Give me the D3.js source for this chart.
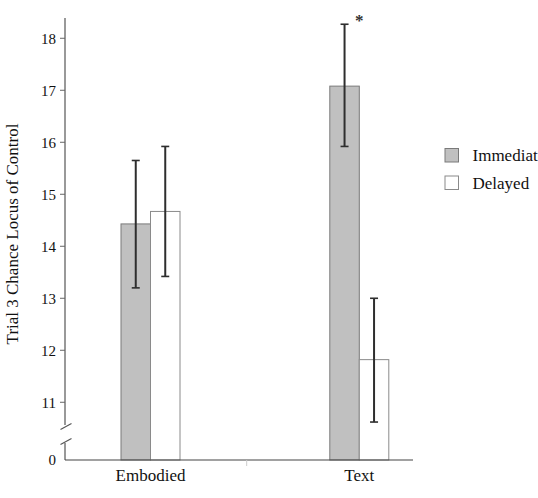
<!DOCTYPE html>
<html>
<head>
<meta charset="utf-8">
<script src="https://cdn.jsdelivr.net/npm/d3@7"></script>
<style>
  body { margin: 0; background: #fff; }
</style>
</head>
<body>
<div id="chart"></div>
<script>
const width = 538,
  height = 498;

// data
const categories = ["Embodied", "Text"];
const seriesNames = ["Immediate", "Delayed"];
const immediateMean = [14.43, 17.08];
const immediateLow = [13.2, 15.92];
const immediateHigh = [15.65, 18.27];
const delayedMean = [14.67, 11.82];
const delayedLow = [13.42, 10.62];
const delayedHigh = [15.92, 13.0];
const yTicks = [0, 11, 12, 13, 14, 15, 16, 17, 18];
const significant = [false, true];

const fills = ["#c0c0c0", "#ffffff"];
const strokes = ["#7a7a7a", "#8a8a8a"];
const serif = '"Liberation Serif"';

const rows = [];
categories.forEach((c, i) => {
  rows.push({ cat: c, s: 0, v: immediateMean[i], lo: immediateLow[i], hi: immediateHigh[i] });
  rows.push({ cat: c, s: 1, v: delayedMean[i], lo: delayedLow[i], hi: delayedHigh[i] });
});

// broken axis: 0 at the floor, then 10.56 .. 18.39 above the break
const y = d3.scaleLinear().domain([0, 10.563, 18.39]).range([460, 425, 18]);
const x = d3.scalePoint().domain(categories).range([150.5, 359.3]);
const barW = 29.5;

const svg = d3
  .select("#chart")
  .append("svg")
  .attr("width", width)
  .attr("height", height);

// bars
svg
  .append("g")
  .selectAll("rect")
  .data(rows)
  .join("rect")
  .attr("x", (d) => x(d.cat) + (d.s === 0 ? -barW : 0))
  .attr("y", (d) => y(d.v))
  .attr("width", barW)
  .attr("height", (d) => y(0) - y(d.v))
  .attr("fill", (d) => fills[d.s])
  .attr("stroke", (d) => strokes[d.s])
  .attr("stroke-width", 1);

// error bars
const eb = svg.append("g").attr("stroke", "#2e2e2e");
rows.forEach((d) => {
  const cx = x(d.cat) + (d.s === 0 ? -barW / 2 : barW / 2);
  eb.append("line")
    .attr("x1", cx).attr("x2", cx)
    .attr("y1", y(d.lo)).attr("y2", y(d.hi))
    .attr("stroke-width", 2);
  [d.lo, d.hi].forEach((v) => {
    eb.append("line")
      .attr("x1", cx - 4).attr("x2", cx + 4)
      .attr("y1", y(v)).attr("y2", y(v))
      .attr("stroke-width", 1.6);
  });
});

// significance star
svg
  .append("g")
  .selectAll("text")
  .data(categories.filter((c, i) => significant[i]))
  .join("text")
  .attr("x", (d) => x(d))
  .attr("y", (d) => y(immediateHigh[categories.indexOf(d)]) + 2)
  .attr("text-anchor", "middle")
  .style("font-family", serif)
  .style("font-size", "17px")
  .style("font-weight", "bold")
  .attr("fill", "#333")
  .text("*");

// y axis
const yAxis = svg.append("g");
yAxis
  .append("line")
  .attr("x1", 65).attr("x2", 65)
  .attr("y1", y(18.39)).attr("y2", y(10.563))
  .attr("stroke", "#555").attr("stroke-width", 1.2);
yAxis
  .append("line")
  .attr("x1", 65).attr("x2", 65)
  .attr("y1", 443).attr("y2", y(0))
  .attr("stroke", "#555").attr("stroke-width", 1.2);
// break marks
yAxis
  .append("line")
  .attr("x1", 60.5).attr("y1", 429.5).attr("x2", 71.5).attr("y2", 423.5)
  .attr("stroke", "#555").attr("stroke-width", 1.1);
yAxis
  .append("line")
  .attr("x1", 60.5).attr("y1", 444.5).attr("x2", 71.5).attr("y2", 438.5)
  .attr("stroke", "#555").attr("stroke-width", 1.1);

yAxis
  .selectAll(".tick")
  .data(yTicks.filter((t) => t > 0))
  .join("line")
  .attr("x1", 60).attr("x2", 65)
  .attr("y1", (d) => y(d)).attr("y2", (d) => y(d))
  .attr("stroke", "#666").attr("stroke-width", 1);

yAxis
  .selectAll("text")
  .data(yTicks)
  .join("text")
  .attr("x", 56)
  .attr("y", (d) => y(d))
  .attr("dy", "0.35em")
  .attr("text-anchor", "end")
  .style("font-family", serif)
  .style("font-size", "15px")
  .attr("fill", "#111")
  .text((d) => d);

svg
  .append("text")
  .attr("transform", "translate(18,234) rotate(-90)")
  .attr("text-anchor", "middle")
  .style("font-family", serif)
  .style("font-size", "17px")
  .attr("fill", "#111")
  .text("Trial 3 Chance Locus of Control");

// x axis
svg
  .append("line")
  .attr("x1", 65).attr("x2", 413)
  .attr("y1", y(0)).attr("y2", y(0))
  .attr("stroke", "#444").attr("stroke-width", 1.2);
svg
  .append("line")
  .attr("x1", 246.7).attr("x2", 246.7)
  .attr("y1", y(0)).attr("y2", y(0) + 6)
  .attr("stroke", "#ccc").attr("stroke-width", 1);

svg
  .append("g")
  .selectAll("text")
  .data(categories)
  .join("text")
  .attr("x", (d) => x(d))
  .attr("y", 481)
  .attr("text-anchor", "middle")
  .style("font-family", serif)
  .style("font-size", "17px")
  .attr("fill", "#111")
  .text((d) => d);

// legend
const legend = svg
  .append("g")
  .selectAll("g")
  .data(seriesNames)
  .join("g")
  .attr("transform", (d, i) => `translate(445,${148.5 + i * 27.5})`);
legend
  .append("rect")
  .attr("width", 13.5)
  .attr("height", 13.5)
  .attr("fill", (d, i) => fills[i])
  .attr("stroke", (d, i) => strokes[i]);
legend
  .append("text")
  .attr("x", 27.5)
  .attr("y", 12.5)
  .style("font-family", serif)
  .style("font-size", "17px")
  .attr("fill", "#111")
  .text((d) => d);
</script>
</body>
</html>
